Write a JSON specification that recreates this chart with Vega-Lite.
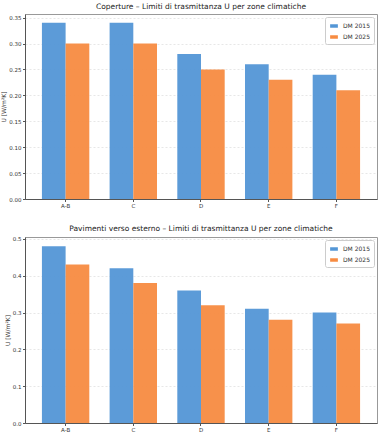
{
  "$schema": "https://vega.github.io/schema/vega-lite/v6.json",
  "padding": {"left": 0, "top": 2, "right": 12, "bottom": 2},
  "spacing": 15,
  "resolve": {"scale": {"color": "independent"}, "legend": {"color": "independent"}},
  "datasets": {
    "rows": [
      {"panel": "top", "zona": "A-B", "serie": "DM 2015", "U": 0.34},
      {"panel": "top", "zona": "A-B", "serie": "DM 2025", "U": 0.30},
      {"panel": "top", "zona": "C", "serie": "DM 2015", "U": 0.34},
      {"panel": "top", "zona": "C", "serie": "DM 2025", "U": 0.30},
      {"panel": "top", "zona": "D", "serie": "DM 2015", "U": 0.28},
      {"panel": "top", "zona": "D", "serie": "DM 2025", "U": 0.25},
      {"panel": "top", "zona": "E", "serie": "DM 2015", "U": 0.26},
      {"panel": "top", "zona": "E", "serie": "DM 2025", "U": 0.23},
      {"panel": "top", "zona": "F", "serie": "DM 2015", "U": 0.24},
      {"panel": "top", "zona": "F", "serie": "DM 2025", "U": 0.21},
      {"panel": "bottom", "zona": "A-B", "serie": "DM 2015", "U": 0.48},
      {"panel": "bottom", "zona": "A-B", "serie": "DM 2025", "U": 0.43},
      {"panel": "bottom", "zona": "C", "serie": "DM 2015", "U": 0.42},
      {"panel": "bottom", "zona": "C", "serie": "DM 2025", "U": 0.38},
      {"panel": "bottom", "zona": "D", "serie": "DM 2015", "U": 0.36},
      {"panel": "bottom", "zona": "D", "serie": "DM 2025", "U": 0.32},
      {"panel": "bottom", "zona": "E", "serie": "DM 2015", "U": 0.31},
      {"panel": "bottom", "zona": "E", "serie": "DM 2025", "U": 0.28},
      {"panel": "bottom", "zona": "F", "serie": "DM 2015", "U": 0.30},
      {"panel": "bottom", "zona": "F", "serie": "DM 2025", "U": 0.27}
    ]
  },
  "config": {
    "font": "DejaVu Sans",
    "view": {"stroke": "#999999", "strokeWidth": 1},
    "title": {"fontSize": 7.5, "fontWeight": "normal", "color": "#222222", "offset": 4},
    "axis": {
      "labelFontSize": 5.5, "labelColor": "#333333", "titleFontSize": 6, "titleFontWeight": "normal", "titleColor": "#333333",
      "domainColor": "#555555", "tickColor": "#555555", "tickSize": 2.5, "labelPadding": 1.5,
      "gridColor": "#dddddd", "gridDash": [2, 2], "gridOpacity": 0.7
    },
    "legend": {
      "orient": "top-right", "title": null, "labelFontSize": 6, "labelColor": "#333333",
      "fillColor": "white", "strokeColor": "#cccccc", "padding": 4, "offset": 3, "cornerRadius": 2,
      "symbolType": "M-1,-0.45H1V0.45H-1Z", "symbolSize": 60, "rowPadding": 3, "symbolOpacity": 1
    }
  },
  "vconcat": [
    {
      "title": "Coperture – Limiti di trasmittanza U per zone climatiche",
      "width": 352, "height": 185,
      "data": {"name": "rows"},
      "transform": [{"filter": "datum.panel === 'top'"}],
      "mark": {"type": "bar", "opacity": 0.95},
      "encoding": {
        "x": {"field": "zona", "type": "nominal", "sort": null,
          "scale": {"paddingInner": 0.3, "paddingOuter": 0.25},
          "axis": {"title": null, "labelAngle": 0, "grid": false}},
        "xOffset": {"field": "serie", "type": "nominal"},
        "y": {"field": "U", "type": "quantitative",
          "scale": {"domain": [0, 0.357], "nice": false},
          "axis": {"title": "U [W/m²K]", "values": [0, 0.05, 0.1, 0.15, 0.2, 0.25, 0.3, 0.35], "format": ".2f", "titlePadding": 2}},
        "color": {"field": "serie", "type": "nominal",
          "scale": {"domain": ["DM 2015", "DM 2025"], "range": ["#5396d6", "#f78b41"]},
          "legend": {"orient": "top-right"}}
      }
    },
    {
      "title": "Pavimenti verso esterno – Limiti di trasmittanza U per zone climatiche",
      "width": 352, "height": 186,
      "data": {"name": "rows"},
      "transform": [{"filter": "datum.panel === 'bottom'"}],
      "mark": {"type": "bar", "opacity": 0.95},
      "encoding": {
        "x": {"field": "zona", "type": "nominal", "sort": null,
          "scale": {"paddingInner": 0.3, "paddingOuter": 0.25},
          "axis": {"title": null, "labelAngle": 0, "grid": false}},
        "xOffset": {"field": "serie", "type": "nominal"},
        "y": {"field": "U", "type": "quantitative",
          "scale": {"domain": [0, 0.505], "nice": false},
          "axis": {"title": "U [W/m²K]", "values": [0, 0.1, 0.2, 0.3, 0.4, 0.5], "format": ".1f", "titlePadding": 2}},
        "color": {"field": "serie", "type": "nominal",
          "scale": {"domain": ["DM 2015", "DM 2025"], "range": ["#5396d6", "#f78b41"]},
          "legend": {"orient": "top-right"}}
      }
    }
  ]
}
